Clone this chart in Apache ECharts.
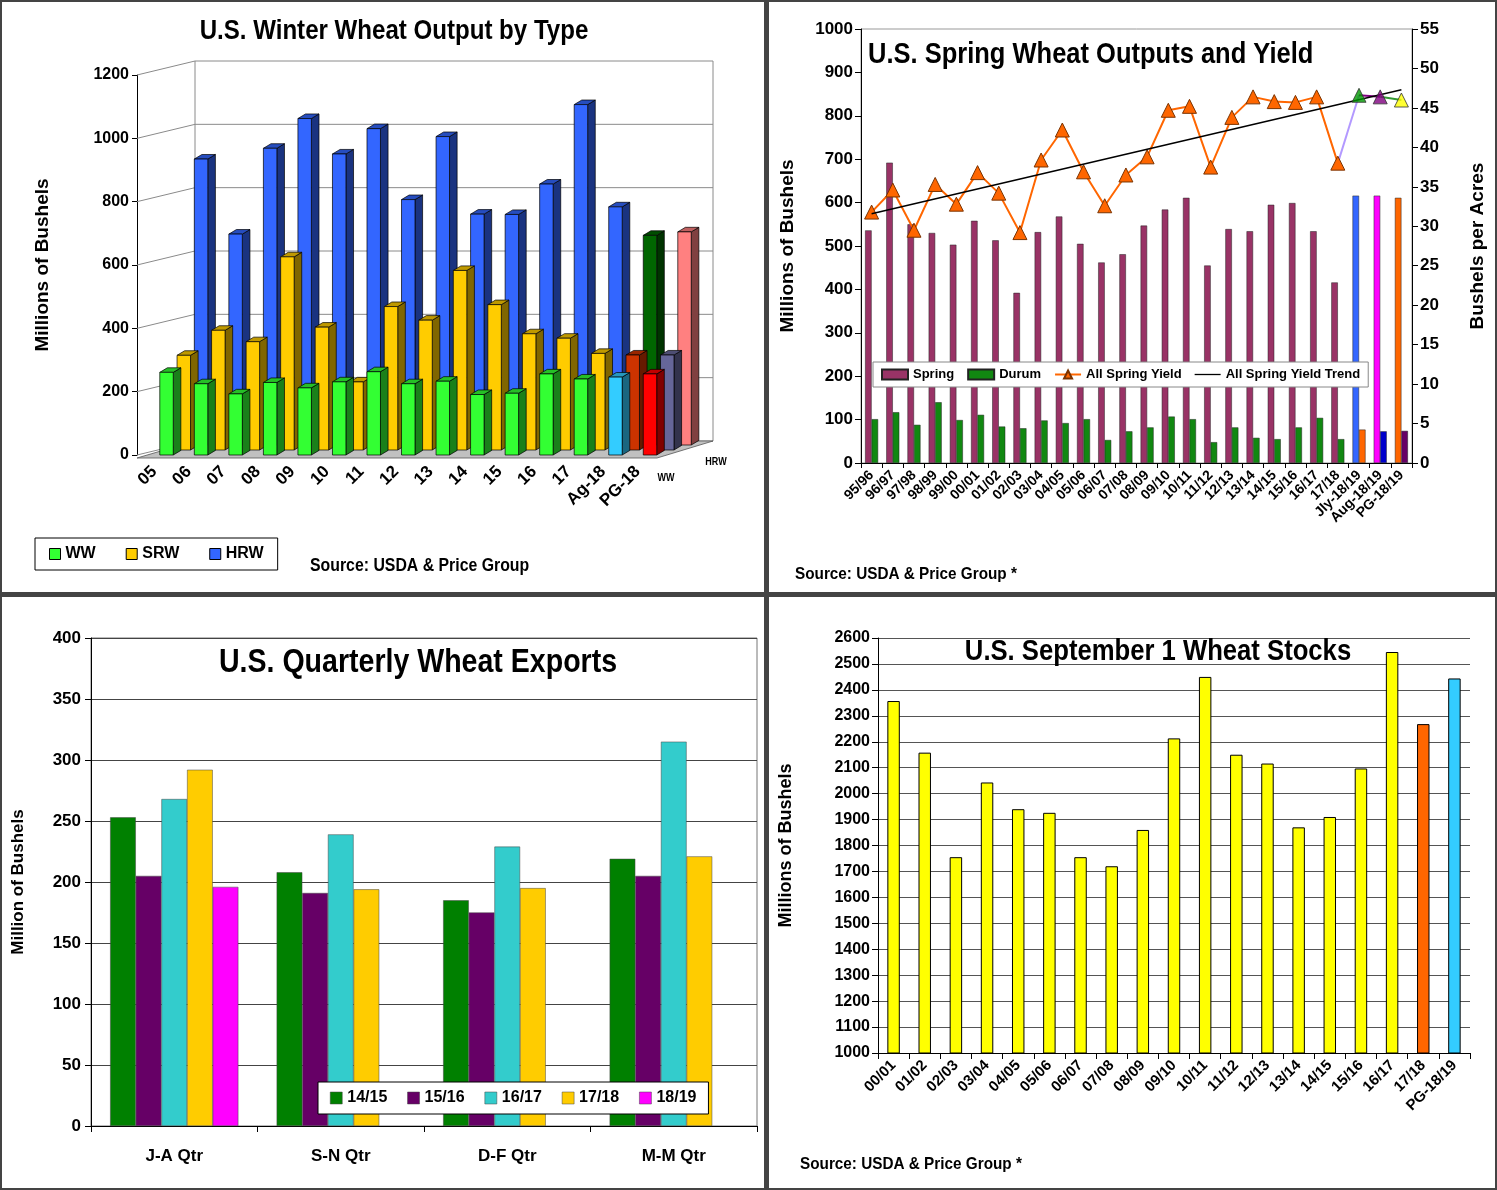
<!DOCTYPE html>
<html>
<head>
<meta charset="utf-8">
<title>U.S. Wheat</title>
<script src="https://cdn.jsdelivr.net/npm/echarts@6/dist/echarts.min.js"></script>
<style>
  html, body { margin: 0; padding: 0; background: #fff; }
  #page { position: relative; width: 1497px; height: 1190px; background: #444; }
  .panel { position: absolute; background: #fff; }
</style>
</head>
<body>
<div id="page">
  <div id="c1" class="panel" style="left:2px;top:2px;width:762px;height:590px"></div>
  <div id="c2" class="panel" style="left:769px;top:2px;width:726px;height:590px"></div>
  <div id="c3" class="panel" style="left:2px;top:597px;width:762px;height:591px"></div>
  <div id="c4" class="panel" style="left:769px;top:597px;width:726px;height:591px"></div>
</div>
<script>
// ---- data: winter wheat by type ----
var winterCats = ['05', '06', '07', '08', '09', '10', '11', '12', '13', '14', '15', '16', '17', 'Ag-18', 'PG-18'];
var wwVals  = [261, 225, 193, 229, 212, 231, 263, 225, 233, 191, 195, 256, 240, 246, 256];
var srwVals = [299, 378, 342, 610, 388, 215, 453, 410, 567, 459, 367, 353, 305, 300, 300];
var hrwVals = [903, 666, 937, 1031, 919, 999, 775, 974, 729, 728, 824, 1075, 752, 662, 673];
var winterTicks = [0, 200, 400, 600, 800, 1000, 1200];

// ---- data: spring wheat ----
var springCats = ['95/96', '96/97', '97/98', '98/99', '99/00', '00/01', '01/02', '02/03', '03/04', '04/05',
  '05/06', '06/07', '07/08', '08/09', '09/10', '10/11', '11/12', '12/13', '13/14', '14/15', '15/16',
  '16/17', '17/18', 'Jly-18/19', 'Aug-18/19', 'PG-18/19'];
var springVals = [536, 692, 550, 530, 503, 558, 513, 392, 532, 568, 505, 462, 481, 547, 584, 611, 455,
  539, 534, 595, 599, 534, 416, 616, 616, 611];
var durumVals = [101, 117, 88, 140, 99, 111, 84, 80, 98, 92, 101, 53, 73, 82, 107, 101, 48, 82, 58, 55,
  82, 104, 55, 77, 73, 74];
var yieldVals = [31.8, 34.6, 29.5, 35.3, 32.8, 36.8, 34.2, 29.2, 38.4, 42.2, 36.9, 32.6, 36.5, 38.8,
  44.7, 45.2, 37.5, 43.8, 46.4, 45.8, 45.7, 46.4, 38.0, 46.6, 46.4, 46.0];
var trendEnds = [31.6, 47.3];

// ---- data: quarterly exports ----
var qtrCats = ['J-A Qtr', 'S-N Qtr', 'D-F Qtr', 'M-M Qtr'];
var exp1415 = [253, 208, 185, 219];
var exp1516 = [205, 191, 175, 205];
var exp1617 = [268, 239, 229, 315];
var exp1718 = [292, 194, 195, 221];
var exp1819 = [196, null, null, null];

// ---- data: September 1 stocks ----
var stockCats = ['00/01', '01/02', '02/03', '03/04', '04/05', '05/06', '06/07', '07/08', '08/09', '09/10',
  '10/11', '11/12', '12/13', '13/14', '14/15', '15/16', '16/17', '17/18', 'PG-18/19'];
var stockVals = [2357, 2158, 1755, 2043, 1940, 1926, 1755, 1720, 1860, 2213, 2450, 2150, 2116, 1870,
  1910, 2097, 2546, 2268, 2444];

var NARROW = '"Liberation Sans Narrow", "Arial Narrow", "Liberation Sans", Arial, sans-serif';
var WIDE = '"Liberation Sans", Arial, sans-serif';
var plain = function (v) { return String(v); };

function shade(hex, f) {
  var n = parseInt(hex.slice(1), 16);
  var r = (n >> 16) & 255, g = (n >> 8) & 255, b = n & 255;
  return 'rgb(' + Math.round(r * f) + ',' + Math.round(g * f) + ',' + Math.round(b * f) + ')';
}

// text drawn squeezed sideways to imitate the narrow bold face of the original
function label(text, x, y, size, align, sx, font) {
  return {
    type: 'text', x: x, y: y, z: 50, scaleX: sx || 1,
    style: { text: text, fill: '#000', align: align || 'left', verticalAlign: 'middle',
      font: 'bold ' + size + 'px ' + (font || NARROW) }
  };
}

// ================= chart 1 : winter wheat (pseudo 3D) =================
var wwColor = '#33FF33', srwColor = '#FFCC00', hrwColor = '#3366FF';
var ag18Colors = ['#33CCFF', '#CC3300', '#006600'];
var pg18Colors = ['#FF0000', '#666699', '#FF8080'];
var WALL_DX = 58, WALL_DY = 14, ROW_LIFT = 5;

function winterItems(vals, base, col) {
  return vals.map(function (v, i) {
    var c = base;
    if (winterCats[i] === 'Ag-18') c = ag18Colors[col];
    if (winterCats[i] === 'PG-18') c = pg18Colors[col];
    return { value: [i, v], itemStyle: { color: c } };
  });
}

function cuboid(row) {
  return function (params, api) {
    var i = api.value(0), v = api.value(1);
    var base = api.coord([i, 0]), top = api.coord([i, v]);
    var band = api.size([1, 0])[0];
    var w = band * 0.39, dx = band * 0.22, dy = dx * 0.6;
    var x0 = base[0] + band * 0.16 + row * band * 0.5;
    var yb = base[1] - row * ROW_LIFT, yt = top[1] - row * ROW_LIFT;
    var c = api.visual('color');
    var edge = { stroke: '#000', lineWidth: 0.7 };
    return {
      type: 'group',
      children: [
        { type: 'polygon', shape: { points: [[x0 + w, yb], [x0 + w + dx, yb - dy], [x0 + w + dx, yt - dy], [x0 + w, yt]] },
          style: Object.assign({ fill: shade(c, 0.5) }, edge) },
        { type: 'polygon', shape: { points: [[x0, yt], [x0 + w, yt], [x0 + w + dx, yt - dy], [x0 + dx, yt - dy]] },
          style: Object.assign({ fill: shade(c, 0.75) }, edge) },
        { type: 'rect', shape: { x: x0, y: yt, width: w, height: yb - yt },
          style: Object.assign({ fill: c }, edge) }
      ]
    };
  };
}

function drawWall(params, api) {
  var cs = params.coordSys;
  var kids = [];
  var xL = cs.x, xW = cs.x + WALL_DX, xR = cs.x + cs.width + WALL_DX;
  var y0 = api.coord([0, 0])[1];
  var yTop = api.coord([0, winterTicks[winterTicks.length - 1]])[1] - WALL_DY;
  winterTicks.forEach(function (t) {
    var y = api.coord([0, t])[1];
    kids.push({ type: 'polyline', shape: { points: [[xL, y], [xW, y - WALL_DY], [xR, y - WALL_DY]] },
      style: { stroke: '#8a8a8a', lineWidth: 1, fill: null } });
  });
  kids.push({ type: 'line', shape: { x1: xW, y1: yTop, x2: xW, y2: y0 - WALL_DY }, style: { stroke: '#8a8a8a', lineWidth: 1 } });
  kids.push({ type: 'line', shape: { x1: xR, y1: yTop, x2: xR, y2: y0 - WALL_DY }, style: { stroke: '#8a8a8a', lineWidth: 1 } });
  kids.push({ type: 'polygon', shape: { points: [[xL, y0 + 3], [cs.x + cs.width + 2, y0 + 3], [xR, y0 - WALL_DY], [xW, y0 - WALL_DY]] },
    style: { fill: '#C0C0C0', stroke: '#555', lineWidth: 0.8 } });
  return { type: 'group', children: kids };
}

var chart1 = echarts.init(document.getElementById('c1'));
chart1.setOption({
  animation: false,
  grid: { left: 135, right: 109, top: 73, bottom: 137 },
  legend: {
    data: [{ name: 'WW', icon: 'rect' }, { name: 'SRW', icon: 'rect' }, { name: 'HRW', icon: 'rect' }],
    left: 33, top: 536, orient: 'horizontal',
    itemWidth: 11, itemHeight: 11, itemGap: 30, padding: [8, 14],
    borderColor: '#000', borderWidth: 1, backgroundColor: '#fff',
    itemStyle: { borderColor: '#000', borderWidth: 1 },
    textStyle: { fontFamily: NARROW, fontWeight: 'bold', fontSize: 16, color: '#000' }
  },
  xAxis: {
    type: 'category', data: winterCats,
    axisLine: { show: false },
    axisTick: { show: false },
    axisLabel: { rotate: 45, margin: 14, interval: 0, color: '#000',
      fontFamily: NARROW, fontWeight: 'bold', fontSize: 17 }
  },
  yAxis: {
    type: 'value', min: 0, max: 1200, interval: 200,
    name: 'Millions of Bushels', nameLocation: 'middle', nameGap: 85, nameRotate: 90,
    nameTextStyle: { fontFamily: WIDE, fontWeight: 'bold', fontSize: 19, color: '#000' },
    axisLine: { show: true, lineStyle: { color: '#000' } },
    axisTick: { show: true, length: 5, lineStyle: { color: '#000' } },
    splitLine: { show: false },
    axisLabel: { margin: 8, color: '#000', fontFamily: NARROW, fontWeight: 'bold', fontSize: 16, formatter: plain }
  },
  series: [
    { type: 'custom', name: 'wall', silent: true, z: 1, data: [[0, 0]], renderItem: drawWall },
    { type: 'custom', name: 'HRW', z: 2, encode: { x: 0, y: 1 }, itemStyle: { color: hrwColor },
      data: winterItems(hrwVals, hrwColor, 2), renderItem: cuboid(2) },
    { type: 'custom', name: 'SRW', z: 3, encode: { x: 0, y: 1 }, itemStyle: { color: srwColor },
      data: winterItems(srwVals, srwColor, 1), renderItem: cuboid(1) },
    { type: 'custom', name: 'WW', z: 4, encode: { x: 0, y: 1 }, itemStyle: { color: wwColor },
      data: winterItems(wwVals, wwColor, 0), renderItem: cuboid(0) }
  ],
  graphic: [
    label('U.S. Winter Wheat Output by Type', 392, 29, 28, 'center', 0.86),
    label('Source: USDA & Price Group', 308, 564, 18, 'left', 0.88),
    label('WW', 664, 476, 10, 'center', 0.9, WIDE),
    label('HRW', 714, 460, 10, 'center', 0.9, WIDE)
  ]
});

// ================= chart 2 : spring wheat =================
var lateSpringColors = ['#3366FF', '#FF00FF', '#FF6600'];
var lateDurumColors = ['#FF6600', '#0000CC', '#660066'];
var lateMarkColors = ['#009900', '#800080', '#FFFF00'];
var lateLineColors = ['#B399FF', '#800080', '#339933'];
var cut = springCats.length - 3;

function paint(vals, base, late) {
  return vals.map(function (v, i) {
    return { value: v, itemStyle: { color: i >= cut ? late[i - cut] : base } };
  });
}
function segment(a) {
  return yieldVals.map(function (v, i) { return (i === a || i === a + 1) ? v : null; });
}

var segSeries = [0, 1, 2].map(function (k) {
  return {
    type: 'line', name: 'seg' + k, yAxisIndex: 1, z: 5, symbol: 'none',
    data: segment(cut - 1 + k), lineStyle: { color: lateLineColors[k], width: 2 }
  };
});

var chart2 = echarts.init(document.getElementById('c2'));
chart2.setOption({
  animation: false,
  grid: { left: 92, right: 80, top: 27, bottom: 129, show: true, borderColor: '#999', borderWidth: 1 },
  legend: {
    data: [{ name: 'Spring', icon: 'rect' }, { name: 'Durum', icon: 'rect' }, 'All Spring Yield',
      { name: 'All Spring Yield Trend', icon: 'path://M0,4.3h28v1.4h-28z' }],
    left: 104, top: 360, itemWidth: 26, itemHeight: 10, itemGap: 13, padding: [6, 8],
    borderColor: '#888', borderWidth: 1, backgroundColor: '#fff', z: 20,
    textStyle: { fontFamily: NARROW, fontWeight: 'bold', fontSize: 13, color: '#000' }
  },
  xAxis: {
    type: 'category', data: springCats,
    axisLine: { lineStyle: { color: '#000' } },
    axisTick: { show: true, lineStyle: { color: '#000' } },
    axisLabel: { rotate: 45, margin: 10, interval: 0, color: '#000',
      fontFamily: NARROW, fontWeight: 'bold', fontSize: 14 }
  },
  yAxis: [
    { type: 'value', min: 0, max: 1000, interval: 100,
      name: 'Millions of Bushels', nameLocation: 'middle', nameGap: 64, nameRotate: 90,
      nameTextStyle: { fontFamily: WIDE, fontWeight: 'bold', fontSize: 19, color: '#000' },
      axisLine: { show: true, lineStyle: { color: '#000' } },
      axisTick: { show: true, length: 6, lineStyle: { color: '#000' } },
      splitLine: { show: false },
      axisLabel: { margin: 8, color: '#000', fontFamily: NARROW, fontWeight: 'bold', fontSize: 17, formatter: plain } },
    { type: 'value', min: 0, max: 55, interval: 5, position: 'right',
      name: 'Bushels per Acres', nameLocation: 'middle', nameGap: 56, nameRotate: 90,
      nameTextStyle: { fontFamily: WIDE, fontWeight: 'bold', fontSize: 19, color: '#000' },
      axisLine: { show: true, lineStyle: { color: '#000' } },
      axisTick: { show: true, length: 6, lineStyle: { color: '#000' } },
      splitLine: { show: false },
      axisLabel: { margin: 8, color: '#000', fontFamily: NARROW, fontWeight: 'bold', fontSize: 17, formatter: plain } }
  ],
  series: [
    { type: 'bar', name: 'Spring', barWidth: 6.5, barGap: '0%', itemStyle: { color: '#993366', borderColor: '#222', borderWidth: 0.5 },
      data: paint(springVals, '#993366', lateSpringColors) },
    { type: 'bar', name: 'Durum', barWidth: 6.5, barGap: '0%', itemStyle: { color: '#118811', borderColor: '#222', borderWidth: 0.5 },
      data: paint(durumVals, '#118811', lateDurumColors) },
    { type: 'line', name: 'All Spring Yield', yAxisIndex: 1, z: 6,
      data: yieldVals.map(function (v, i) { return i < cut ? v : null; }),
      symbol: 'triangle', symbolSize: 14,
      lineStyle: { color: '#FF6600', width: 2 },
      itemStyle: { color: '#FF6600', borderColor: '#7a3300', borderWidth: 1 } },
    { type: 'line', name: 'All Spring Yield Trend', yAxisIndex: 1, z: 7, symbol: 'none',
      data: [[springCats[0], trendEnds[0]], [springCats[springCats.length - 1], trendEnds[1]]],
      lineStyle: { color: '#000', width: 1.5 }, itemStyle: { color: '#000' } }
  ].concat(segSeries).concat([
    { type: 'scatter', name: 'late', yAxisIndex: 1, z: 8, symbol: 'triangle', symbolSize: 14,
      data: yieldVals.slice(cut).map(function (v, k) {
        return { value: [springCats[cut + k], v], itemStyle: { color: lateMarkColors[k], borderColor: '#333', borderWidth: 1 } };
      }) }
  ]),
  graphic: [
    label('U.S. Spring Wheat Outputs and Yield', 99, 53, 30, 'left', 0.85),
    label('Source: USDA & Price Group *', 26, 572, 17, 'left', 0.9)
  ]
});

// ================= chart 3 : quarterly exports =================
var chart3 = echarts.init(document.getElementById('c3'));
var expSeries = [
  ['14/15', exp1415, '#008000'],
  ['15/16', exp1516, '#660066'],
  ['16/17', exp1617, '#33CCCC'],
  ['17/18', exp1718, '#FFCC00'],
  ['18/19', exp1819, '#FF00FF']
].map(function (s) {
  return { type: 'bar', name: s[0], data: s[1], barGap: '0%', barCategoryGap: '23%',
    itemStyle: { color: s[2], borderColor: '#444', borderWidth: 0.5 } };
});
chart3.setOption({
  animation: false,
  grid: { left: 86, right: 7, top: 41, bottom: 62, show: true, borderColor: '#777', borderWidth: 1 },
  legend: {
    data: expSeries.map(function (s) { return { name: s.name, icon: 'rect' }; }),
    left: 316, top: 485, itemWidth: 12, itemHeight: 12, itemGap: 20, padding: [8, 12],
    borderColor: '#000', borderWidth: 1, backgroundColor: '#fff', z: 20,
    itemStyle: { borderColor: '#444', borderWidth: 0.5 },
    textStyle: { fontFamily: NARROW, fontWeight: 'bold', fontSize: 16, color: '#000' }
  },
  xAxis: {
    type: 'category', data: qtrCats,
    axisLine: { lineStyle: { color: '#000' } },
    axisTick: { show: true, length: 6, lineStyle: { color: '#000' } },
    axisLabel: { margin: 22, color: '#000', fontFamily: NARROW, fontWeight: 'bold', fontSize: 17 }
  },
  yAxis: {
    type: 'value', min: 0, max: 400, interval: 50,
    name: 'Million of Bushels', nameLocation: 'middle', nameGap: 64, nameRotate: 90,
    nameTextStyle: { fontFamily: WIDE, fontWeight: 'bold', fontSize: 17, color: '#000' },
    axisLine: { show: true, lineStyle: { color: '#000' } },
    axisTick: { show: true, length: 6, lineStyle: { color: '#000' } },
    splitLine: { lineStyle: { color: '#444', width: 1 } },
    axisLabel: { margin: 10, color: '#000', fontFamily: NARROW, fontWeight: 'bold', fontSize: 17, formatter: plain }
  },
  series: expSeries,
  graphic: [label('U.S. Quarterly Wheat Exports', 416, 66, 33, 'center', 0.865)]
});

// ================= chart 4 : September 1 stocks =================
var stockColor = '#FFFF00';
var stockLate = { '17/18': '#FF6600', 'PG-18/19': '#33CCFF' };
var chart4 = echarts.init(document.getElementById('c4'));
chart4.setOption({
  animation: false,
  grid: { left: 109, right: 25, top: 41, bottom: 135 },
  xAxis: {
    type: 'category', data: stockCats,
    axisLine: { lineStyle: { color: '#000' } },
    axisTick: { show: true, length: 6, lineStyle: { color: '#000' } },
    axisLabel: { rotate: 45, margin: 10, interval: 0, color: '#000',
      fontFamily: NARROW, fontWeight: 'bold', fontSize: 15 }
  },
  yAxis: {
    type: 'value', min: 1000, max: 2600, interval: 100,
    name: 'Millions of Bushels', nameLocation: 'middle', nameGap: 83, nameRotate: 90,
    nameTextStyle: { fontFamily: WIDE, fontWeight: 'bold', fontSize: 18, color: '#000' },
    axisLine: { show: true, lineStyle: { color: '#000' } },
    axisTick: { show: true, length: 6, lineStyle: { color: '#000' } },
    splitLine: { lineStyle: { color: '#555', width: 1 } },
    axisLabel: { margin: 8, color: '#000', fontFamily: NARROW, fontWeight: 'bold', fontSize: 16, formatter: plain }
  },
  series: [{
    type: 'bar', name: 'Stocks', barWidth: '40%',
    data: stockVals.map(function (v, i) {
      return { value: v, itemStyle: { color: stockLate[stockCats[i]] || stockColor } };
    }),
    itemStyle: { borderColor: '#000', borderWidth: 1 }
  }],
  graphic: [
    label('U.S. September 1 Wheat Stocks', 389, 55, 30, 'center', 0.855),
    label('Source: USDA & Price Group *', 31, 567, 17, 'left', 0.9)
  ]
});
</script>
</body>
</html>
